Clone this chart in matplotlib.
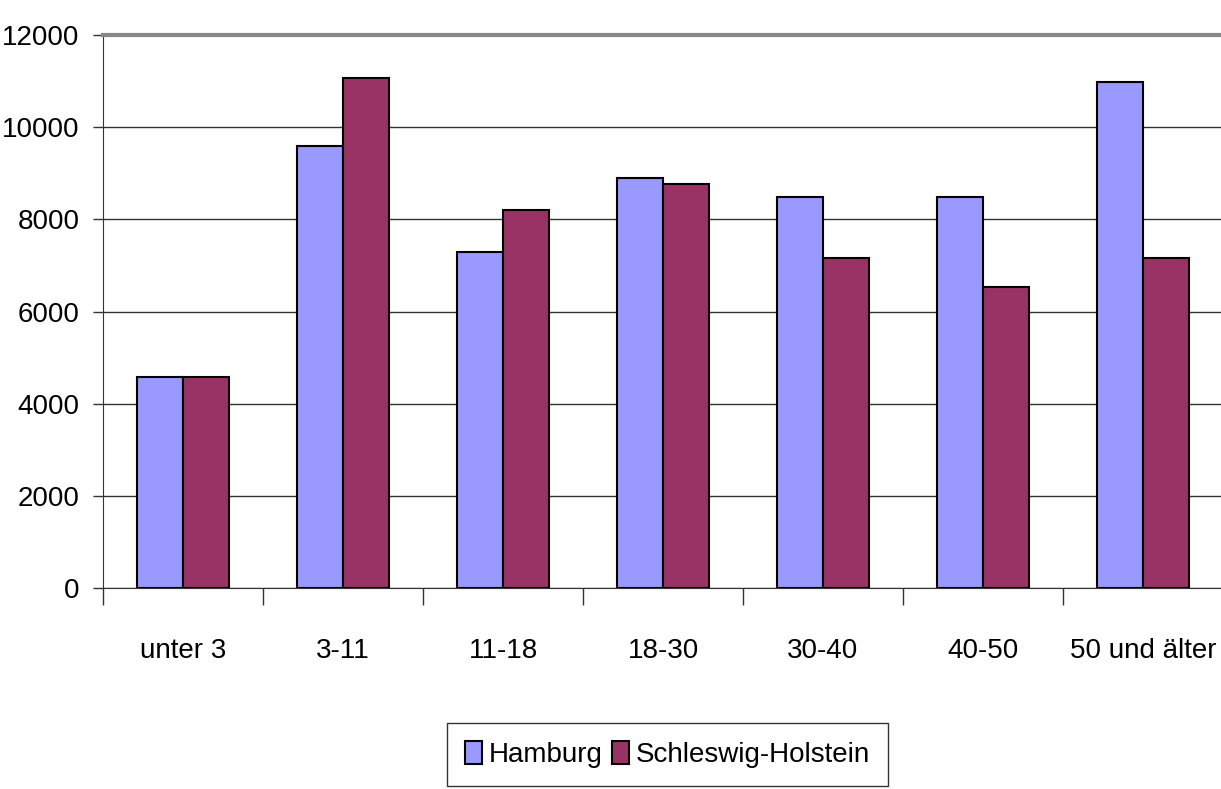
import numpy as np
import matplotlib
matplotlib.use("Agg")
from matplotlib import pyplot as plt

categories = ["unter 3", "3-11", "11-18", "18-30", "30-40", "40-50", "50 und älter"]
hamburg = [4580, 9590, 7290, 8900, 8480, 8480, 10990]
schleswig = [4580, 11060, 8200, 8760, 7160, 6530, 7160]
series_names = ["Hamburg", "Schleswig-Holstein"]
y_ticks = [0, 2000, 4000, 6000, 8000, 10000, 12000]

plt.rcParams['font.family'] = ['Liberation Sans', 'DejaVu Sans']

fig = plt.figure(figsize=(12.21, 7.89), dpi=100)
ax = fig.add_axes([103/1221, 1 - 588/789, 1120/1221, 553/789])

x = np.arange(len(categories))
w = 1 / 3.5  # excel gap width 150%
ax.bar(x - w/2, hamburg, w, color="#9999ff", edgecolor="black", linewidth=1.5, label=series_names[0], zorder=3)
ax.bar(x + w/2, schleswig, w, color="#993366", edgecolor="black", linewidth=1.5, label=series_names[1], zorder=3)

ax.set_xlim(-0.5, len(categories) - 0.5)
ax.set_ylim(0, 12000)
ax.set_yticks(y_ticks)
ax.set_yticklabels([str(v) for v in y_ticks], fontsize=20)
ax.yaxis.grid(True, color="#333333", linewidth=1, zorder=0)

ax.set_xticks(x)
ax.set_xticklabels(categories, fontsize=20)
ax.set_xticks(np.arange(len(categories) + 1) - 0.5, minor=True)
ax.tick_params(axis="x", which="major", length=0, pad=36)
ax.tick_params(axis="x", which="minor", length=12, width=1, color="#333333")
ax.tick_params(axis="y", length=7, width=1, color="#333333", pad=10)

ax.spines["right"].set_visible(False)
ax.spines["top"].set_color("#888888")
ax.spines["top"].set_linewidth(3)
ax.spines["left"].set_color("#333333")
ax.spines["bottom"].set_color("#333333")

# legend box runs off the bottom edge like in the original
leg = ax.legend(loc="upper left", bbox_to_anchor=(447/1221, 1 - 723/789), bbox_transform=fig.transFigure,
                ncol=2, fontsize=20, frameon=True, fancybox=False, handlelength=0.6, handleheight=0.9,
                handletextpad=0.25, columnspacing=0.35, borderpad=0.65, borderaxespad=0)
leg.get_frame().set_edgecolor("black")
leg.get_frame().set_linewidth(1)

fig.savefig("out.png", dpi=100)
